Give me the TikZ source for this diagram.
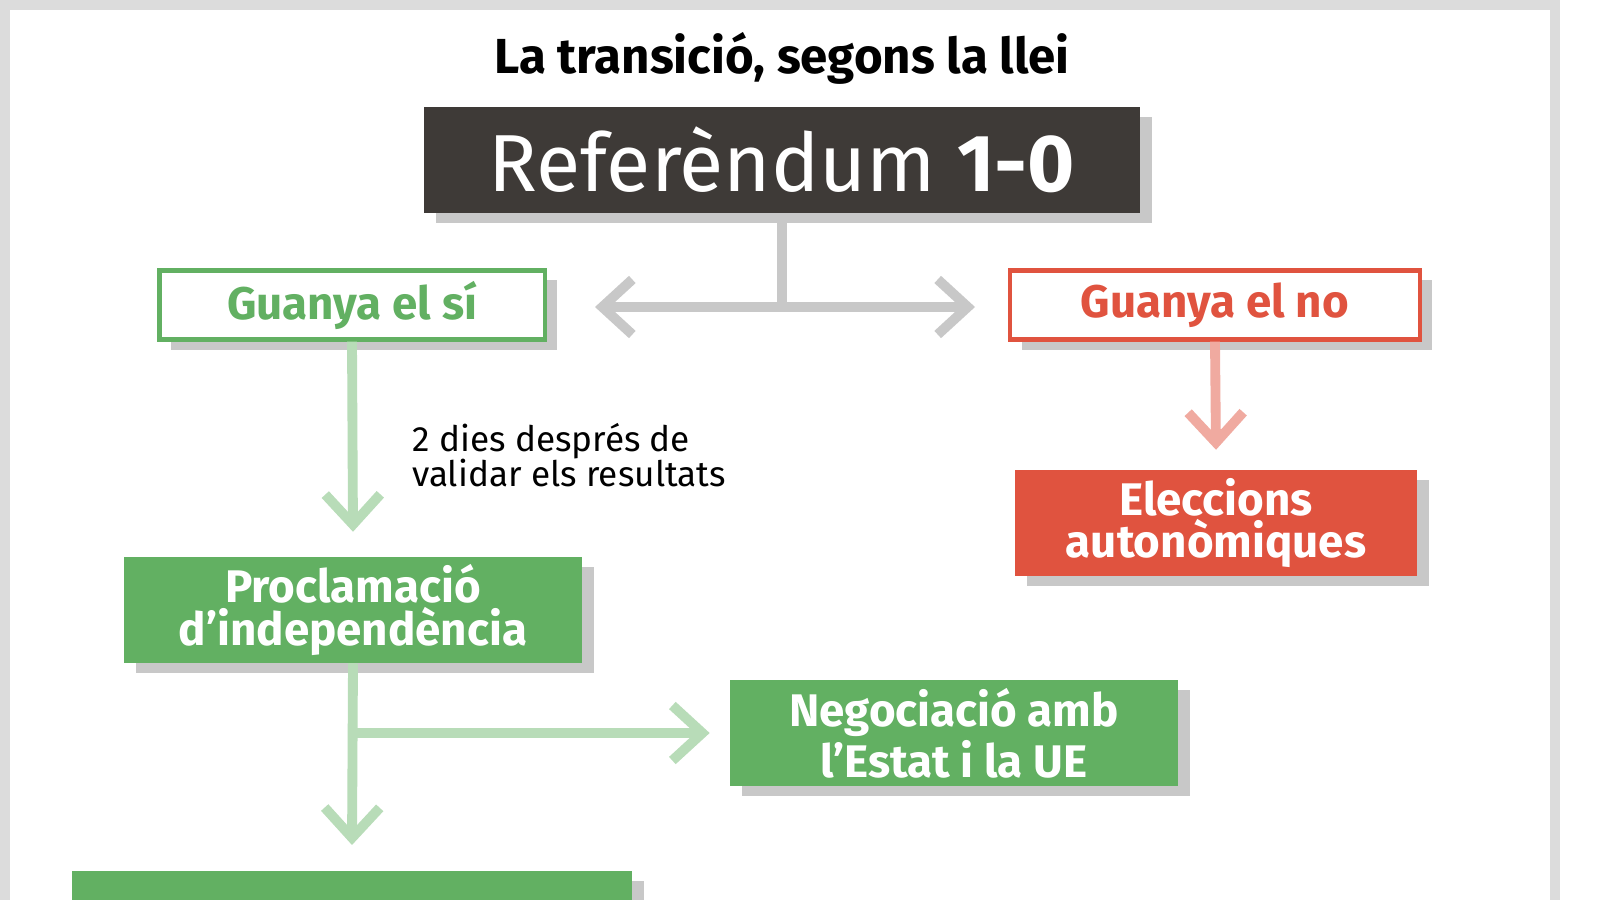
\documentclass[tikz,border=0pt]{standalone}
\usepackage{fontspec}
\setmainfont{Fira Sans}
\usetikzlibrary{arrows.meta, shadows}
\definecolor{boxdark}{RGB}{62, 58, 55}
\definecolor{green}{RGB}{98, 176, 98}
\definecolor{lightgreen}{RGB}{184, 220, 184}
\definecolor{red}{RGB}{224, 83, 63}
\definecolor{lightred}{RGB}{240, 170, 160}
\definecolor{frame}{RGB}{220, 220, 220}
\definecolor{greyline}{RGB}{200, 200, 200}

\tikzset{
  boxed/.style={minimum height=1.05cm, inner sep=0pt, align=center,
    font=\bfseries\fontsize{13}{12}\selectfont,
    drop shadow={shadow xshift=0.12cm, shadow yshift=-0.1cm, fill=greyline, opacity=1}},
  flow/.style={line width=2.8pt, -{Straight Barb[length=0.3cm, width=0.55cm, line width=2.8pt]}}
}

\begin{document}
\begin{tikzpicture}[x=0.01cm, y=-0.01cm]
  \useasboundingbox (0, 0) rectangle (1600, 900);
  \fill[white] (0, 0) rectangle (1600, 900);
  \draw[frame, line width=3pt] (5, 900) -- (5, 5) -- (1555, 5) -- (1555, 900);

  \node[font=\bfseries\fontsize{14}{16}\selectfont] (title) at (782, 58) {La transició, segons la llei};

  % top box
  \node[boxed, fill=boxdark, text=white, minimum width=7.15cm, minimum height=1.06cm,
        font=\fontsize{23}{25}\selectfont] (ref) at (782, 160)
        {\fontseries{l}\selectfont Referèndum \textbf{1-0}};

  \node[boxed, draw=green, line width=1.2pt, fill=white, text=green, minimum width=3.85cm, minimum height=0.69cm] (si) at (352, 305) {Guanya el sí};
  \node[boxed, draw=red, line width=1.2pt, fill=white, text=red, minimum width=4.1cm, minimum height=0.69cm] (no) at (1215, 305) {Guanya el no};

  % split arrow
  \coordinate (fork) at (782, 307);
  \coordinate (forkl) at (595, 307);
  \coordinate (forkr) at (975, 307);
  \draw[greyline, line width=3pt] (ref.south) -- (fork);
  \draw[greyline, flow, line width=3pt] (fork) -- (forkl);
  \draw[greyline, flow, line width=3pt] (fork) -- (forkr);

  \node[boxed, fill=green, text=white, minimum width=4.58cm] (procl) at (353, 610)
       {Proclamació\\d’independència};
  \node[boxed, fill=red, text=white, minimum width=4.02cm] (elec) at (1216, 523)
       {Eleccions\\autonòmiques};
  \node[boxed, fill=green, text=white, minimum width=4.47cm] (neg) at (954, 733)
       {Negociació amb\\l’Estat i la UE};
  \node[boxed, fill=green, minimum width=5.6cm, anchor=north] (next) at (352, 870) {};

  \node[anchor=west, align=left, font=\fontsize{10}{10}\selectfont] (wait) at (400, 455)
       {2 dies després de\\validar els resultats};

  % arrows
  \draw[lightgreen, flow] (si.south) -- ([yshift=0.25cm]procl.north);
  \draw[lightred, flow] (no.south) -- ([yshift=0.2cm]elec.north);
  \coordinate (branch) at (352, 733);
  \draw[lightgreen, flow] (procl.south) -- ([yshift=0.25cm]next.north);
  \draw[lightgreen, flow] (branch) -- ([xshift=-0.2cm]neg.west);
\end{tikzpicture}
\end{document}
